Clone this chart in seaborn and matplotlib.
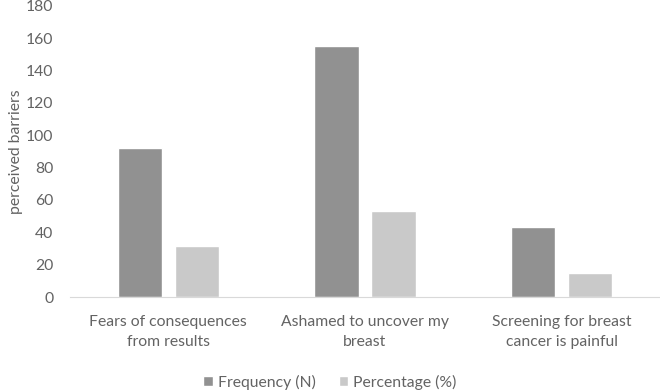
import matplotlib
matplotlib.use("Agg")
import matplotlib.pyplot as plt
import pandas as pd
import seaborn as sns

categories = ["Fears of consequences\nfrom results",
              "Ashamed to uncover my\nbreast",
              "Screening for breast\ncancer is painful"]
frequency = [92, 155, 43]
percentage = [31.7, 53.4, 14.8]
series_names = ["Frequency (N)", "Percentage (%)"]
y_ticks = [0, 20, 40, 60, 80, 100, 120, 140, 160, 180]

df = pd.DataFrame({
    "category": categories * 2,
    "series": [series_names[0]] * 3 + [series_names[1]] * 3,
    "value": frequency + percentage,
})

sns.set_style("white")
plt.rcParams["font.family"] = ["Lato", "DejaVu Sans"]
text_col = "#636363"
fsize = 11.3

fig = plt.figure(figsize=(6.6, 3.91), dpi=100)
ax = fig.add_axes([0.106, 0.2404, 0.894, 0.7443])

sns.barplot(data=df, x="category", y="value", hue="series",
            palette=["#919191", "#c9c9c9"], width=0.58, gap=0.22,
            saturation=1, ax=ax, legend=True)

ax.set_ylim(0, 180)
ax.set_xlim(-0.5, 2.5)
ax.set_yticks(y_ticks)
ax.tick_params(axis="both", length=0, colors=text_col, labelsize=fsize)
ax.tick_params(axis="x", pad=13)
ax.tick_params(axis="y", pad=12)
for s in ["top", "right", "left"]:
    ax.spines[s].set_visible(False)
ax.spines["bottom"].set_color("#d9d9d9")
ax.set_xlabel("")
ax.set_ylabel("perceived barriers", color=text_col, fontsize=fsize, labelpad=2)
for lbl in ax.get_xticklabels():
    lbl.set_linespacing(1.5)

ax.legend_.remove()
handles, labels = ax.get_legend_handles_labels()
fig.legend(handles, labels, loc="center", bbox_to_anchor=(0.5, 0.023),
           ncol=2, frameon=False, fontsize=fsize, labelcolor=text_col,
           handlelength=0.6, handleheight=0.6, handletextpad=0.3,
           columnspacing=1.5)

fig.savefig("out.png", dpi=100)
